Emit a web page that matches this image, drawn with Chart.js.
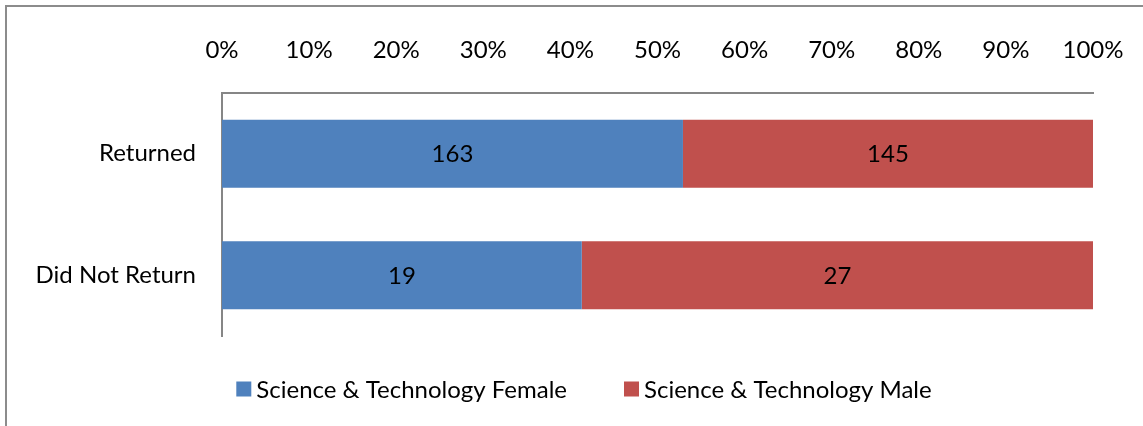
<!DOCTYPE html>
<html>
<head>
<meta charset="utf-8">
<script src="https://cdn.jsdelivr.net/npm/chart.js@4"></script>
<style>
  html, body { margin: 0; padding: 0; background: #fff; }
  #wrap { width: 1143px; height: 426px; position: relative; }
</style>
</head>
<body>
<div id="wrap"><canvas id="chart" width="1143" height="426"></canvas></div>
<script>
const categories = ['Returned', 'Did Not Return'];
const femaleCounts = [163, 19];
const maleCounts = [145, 27];
const seriesNames = ['Science & Technology Female', 'Science & Technology Male'];

// turn counts into shares of each row so bars stack to 100%
function toShare(part, other) {
    return part.map((v, i) => v / (v + other[i]) * 100);
}

const counts = [femaleCounts, maleCounts];
const FONT = '24px Lato';

// frame around the whole chart, like the office chart border
const framePlugin = {
    id: 'frame',
    beforeDraw(chart) {
        const ctx = chart.ctx;
        ctx.save();
        ctx.strokeStyle = '#8c8c8c';
        ctx.lineWidth = 2;
        ctx.strokeRect(6, 6, 1200, 500);
        ctx.restore();
    }
};

// write the raw counts in the middle of each segment
const countLabels = {
    id: 'countLabels',
    afterDatasetsDraw(chart) {
        const ctx = chart.ctx;
        ctx.save();
        ctx.font = FONT;
        ctx.fillStyle = '#000';
        ctx.textAlign = 'center';
        ctx.textBaseline = 'middle';
        chart.data.datasets.forEach((ds, di) => {
            chart.getDatasetMeta(di).data.forEach((bar, i) => {
                const mid = (bar.x + bar.base) / 2;
                ctx.fillText(String(counts[di][i]), mid, bar.y + 1);
            });
        });
        ctx.restore();
    }
};

// legend drawn by hand so box/text spacing matches the office style
const bottomLegend = {
    id: 'bottomLegend',
    afterDraw(chart) {
        const ctx = chart.ctx;
        const box = 15, gap = 5, between = 57, cy = 389, centreX = 584;
        ctx.save();
        ctx.font = FONT;
        ctx.textBaseline = 'middle';
        const widths = chart.data.datasets.map(ds => ctx.measureText(ds.label).width);
        const total = widths.reduce((a, w) => a + box + gap + w, 0) + between * (widths.length - 1);
        let x = centreX - total / 2;
        chart.data.datasets.forEach((ds, i) => {
            ctx.fillStyle = ds.backgroundColor;
            ctx.fillRect(x, cy - box / 2, box, box);
            ctx.fillStyle = '#000';
            ctx.fillText(ds.label, x + box + gap, cy + 1);
            x += box + gap + widths[i] + between;
        });
        ctx.restore();
    }
};

Chart.defaults.font.family = 'Lato';
Chart.defaults.color = '#000';

new Chart(document.getElementById('chart').getContext('2d'), {
    type: 'bar',
    data: {
        labels: categories,
        datasets: [
            {
                label: seriesNames[0],
                data: toShare(femaleCounts, maleCounts),
                backgroundColor: '#4f81bd',
                categoryPercentage: 1,
                barPercentage: 0.56
            },
            {
                label: seriesNames[1],
                data: toShare(maleCounts, femaleCounts),
                backgroundColor: '#c0504d',
                categoryPercentage: 1,
                barPercentage: 0.56
            }
        ]
    },
    options: {
        indexAxis: 'y',
        responsive: false,
        animation: false,
        layout: { padding: { left: 0, right: 50, top: 0, bottom: 90 } },
        scales: {
            x: {
                position: 'top',
                stacked: true,
                min: 0,
                max: 100,
                grid: { display: false, drawTicks: false },
                border: { display: true, color: '#868686', width: 2 },
                ticks: {
                    stepSize: 10,
                    padding: 28,
                    font: { size: 24 },
                    callback: v => v + '%'
                },
                afterFit(scale) {
                    scale.height = 93;
                    // let the 100% label hang past the plot edge
                    scale.paddingLeft = 0;
                    scale.paddingRight = 0;
                }
            },
            y: {
                stacked: true,
                grid: { display: false, drawTicks: false },
                border: { display: true, color: '#868686', width: 2 },
                ticks: { padding: 26, font: { size: 24 } },
                afterFit(scale) { scale.width = 222; }
            }
        },
        plugins: {
            legend: { display: false },
            tooltip: { enabled: false }
        }
    },
    plugins: [framePlugin, countLabels, bottomLegend]
});
</script>
</body>
</html>
